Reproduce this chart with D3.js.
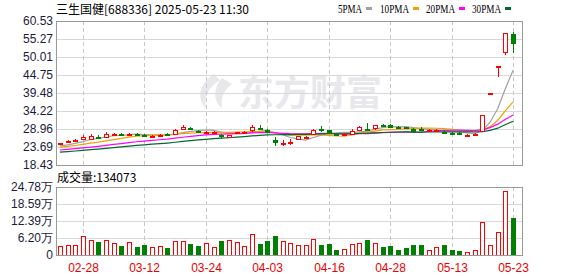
<!DOCTYPE html>
<html>
<head>
<meta charset="utf-8">
<script src="https://cdn.jsdelivr.net/npm/d3@7"></script>
<style>
	body { margin: 0; background: #fff; }
	svg { display: block; }
</style>
</head>
<body>
<div id="chart"></div>
<script>
// trading days shown (60 sessions)
const dates = [
	"02-25","02-26","02-27","02-28","03-03","03-04","03-05","03-06","03-07","03-10",
	"03-11","03-12","03-13","03-14","03-17","03-18","03-19","03-20","03-21","03-24",
	"03-25","03-26","03-27","03-28","03-31","04-01","04-02","04-03","04-07","04-08",
	"04-09","04-10","04-11","04-14","04-15","04-16","04-17","04-18","04-21","04-22",
	"04-23","04-24","04-25","04-28","04-29","04-30","05-06","05-07","05-08","05-09",
	"05-12","05-13","05-14","05-15","05-16","05-19","05-20","05-21","05-22","05-23"
];

const opens = [
	24.4,25.0,25.4,26.0,26.0,26.7,26.8,27.2,27.5,27.3,
	27.6,27.3,26.8,27.0,27.5,27.4,28.9,29.2,28.5,27.9,
	27.9,27.1,26.5,27.6,27.9,28.4,29.3,28.7,25.6,24.8,
	24.9,25.9,26.4,27.5,29.0,28.6,27.6,27.3,27.6,28.7,
	29.1,29.0,30.2,30.2,29.6,29.4,29.0,28.9,28.5,28.4,
	28.2,27.9,27.8,27.1,27.3,28.4,39.53,47.44,51.5,56.6
];
const closes = [
	24.8,25.4,25.8,26.6,26.8,26.4,27.6,27.5,27.2,27.6,
	27.4,27.0,27.0,27.2,27.2,28.7,29.4,28.9,28.2,28.1,
	28.1,26.8,27.1,28.0,28.2,29.4,29.0,28.2,24.9,25.0,
	25.2,26.8,26.6,28.7,28.6,27.8,27.3,27.5,28.5,29.5,
	28.9,30.0,30.0,29.7,29.4,29.2,28.4,28.6,28.7,28.8,
	27.9,27.7,27.5,27.3,27.45,32.94,39.53,47.44,56.93,54.0
];
const highs = [
	25.0,25.6,26.0,27.1,27.5,27.2,28.1,27.9,27.7,27.9,
	27.9,27.5,27.3,27.5,27.8,29.0,30.2,29.6,28.8,28.4,
	28.3,27.4,27.3,28.2,28.5,30.2,30.1,29.0,26.6,25.8,
	25.9,27.0,26.9,29.0,29.8,28.8,27.9,27.8,28.9,29.8,
	30.6,30.2,30.5,30.4,29.8,29.6,29.3,29.6,28.9,29.0,
	28.6,28.1,28.0,27.5,27.8,32.94,39.53,47.44,56.93,57.2
];
const lows = [
	24.3,24.9,25.3,25.9,25.9,26.2,26.6,27.0,27.0,27.2,
	27.2,26.8,26.6,26.8,27.0,27.2,28.6,28.6,27.9,27.8,
	27.7,26.1,26.3,27.4,27.7,28.2,28.7,27.9,24.0,24.1,
	24.3,25.7,26.2,27.3,28.2,27.6,27.1,27.1,27.4,28.5,
	28.7,28.8,29.8,29.5,29.2,29.0,28.2,28.3,28.4,28.3,
	27.4,27.5,27.4,26.7,27.0,28.2,39.53,44.3,50.7,51.1
];
// volume in 万 shares
const volumes = [
	3.3,3.6,3.6,6.9,5.4,4.8,5.4,4.2,3.3,4.7,
	2.9,3.6,2.9,3.3,2.5,5.1,5.1,4.0,3.3,4.3,
	2.9,5.2,5.4,4.7,3.3,7.6,4.0,5.2,6.9,5.1,
	4.2,3.5,3.5,6.0,3.6,4.0,1.8,2.1,4.0,4.3,
	5.4,4.3,2.9,3.3,1.8,2.5,3.6,3.6,1.8,2.9,
	3.6,1.8,1.45,1.1,1.8,12.2,3.6,8.3,23.2,13.41
];
// closes before the window, needed for the moving averages
const prevCloses = [
	20.6,20.9,21.2,20.8,21.1,21.3,20.7,21.0,21.2,21.2,
	21.5,21.8,22.2,21.9,22.0,22.3,21.7,22.1,22.4,22.0,
	23.2,23.0,23.4,23.1,23.5,23.9,23.6,24.0,23.8
];

const priceTicks = [18.43,23.69,28.96,34.22,39.48,44.75,50.01,55.27,60.53];
const volTicks = [0,6.20,12.39,18.59,24.78];
const labelDates = ["02-28","03-12","03-24","04-03","04-16","04-28","05-13","05-23"];
const maPeriods = [5,10,20,30];
const maNames = ["5PMA","10PMA","20PMA","30PMA"];

const title = "三生国健[688336] 2025-05-23 11:30";
const lastVolume = 134073;

const maColors = ["#a0a0a0","#f0a000","#ff00ff","#006a2c"],
	upColor = "#ff0000",
	downColor = "#008000",
	gridColor = "#d8d8d8",
	borderColor = "#999",
	labelColor = "#1c1c3a";

const width = 578, height = 276,
	left = 56, right = 522,
	priceTop = 21, priceBottom = 165,
	volTop = 187, volBottom = 255;

const svg = d3.select("#chart")
	.append("svg")
	.attr("width", width)
	.attr("height", height)
	.style("font-family", "'Liberation Sans', Arial, sans-serif");

const x = d3.scaleBand()
	.domain(dates)
	.range([left, 517])
	.paddingInner(0.35)
	.paddingOuter(0.175);

const cx = d => Math.round(x(d) + x.bandwidth() / 2) + 0.5;

const yPrice = d3.scaleLinear()
	.domain([priceTicks[0], priceTicks[priceTicks.length - 1]])
	.range([priceBottom, priceTop]);

const yVol = d3.scaleLinear()
	.domain([0, volTicks[volTicks.length - 1]])
	.range([volBottom, volTop]);

// watermark
const wm = svg.append("g").attr("fill", "#e8e8ec");
wm.append("path")
	.attr("d", "M214,74 C198,84 197,100 206,108 C203,96 210,86 220,80 Z M222,78 C212,90 214,102 222,108 C220,96 226,88 232,84 Z");
wm.append("text")
	.attr("x", 238)
	.attr("y", 106)
	.attr("font-size", 36)
	.attr("font-weight", "bold")
	.attr("font-family", "'Noto Sans CJK SC', sans-serif")
	.text("东方财富");

// horizontal grid
svg.append("g")
	.selectAll("line")
	.data(priceTicks.slice(1, -1))
	.enter()
	.append("line")
	.attr("x1", left).attr("x2", right)
	.attr("y1", d => Math.round(yPrice(d)) + 0.5)
	.attr("y2", d => Math.round(yPrice(d)) + 0.5)
	.style("stroke", gridColor);

svg.append("g")
	.selectAll("line")
	.data(volTicks.slice(1, -1))
	.enter()
	.append("line")
	.attr("x1", left).attr("x2", right)
	.attr("y1", d => Math.round(yVol(d)) + 0.5)
	.attr("y2", d => Math.round(yVol(d)) + 0.5)
	.style("stroke", gridColor);

// vertical dashed lines at date labels
[[priceTop, priceBottom], [volTop, volBottom]].forEach(([t, b]) => {
	svg.append("g")
		.selectAll("line")
		.data(labelDates)
		.enter()
		.append("line")
		.attr("x1", cx).attr("x2", cx)
		.attr("y1", t).attr("y2", b)
		.style("stroke", "#c8c8c8")
		.style("stroke-dasharray", "4,3");
});

// moving averages
const allCloses = prevCloses.concat(closes);
const offset = prevCloses.length;

maPeriods.forEach((p, k) => {
	const ma = closes.map((c, i) => d3.mean(allCloses.slice(i + offset - p + 1, i + offset + 1)));
	const line = d3.line()
		.x((d, i) => x(dates[i]) + x.bandwidth() / 2)
		.y(d => yPrice(d));
	svg.append("path")
		.datum(ma)
		.attr("d", line)
		.style("fill", "none")
		.style("stroke", maColors[k])
		.style("stroke-width", 1.2);
});

// candles
const candles = dates.map((d, i) => ({
	date: d, o: opens[i], c: closes[i], h: highs[i], l: lows[i], v: volumes[i],
	up: closes[i] >= opens[i]
}));

const cg = svg.append("g").attr("shape-rendering", "crispEdges");

cg.selectAll("line.wick")
	.data(candles)
	.enter()
	.append("line")
	.attr("class", "wick")
	.attr("x1", d => cx(d.date)).attr("x2", d => cx(d.date))
	.attr("y1", d => yPrice(d.h)).attr("y2", d => yPrice(d.l))
	.style("stroke", d => d.up ? upColor : downColor);

cg.selectAll("rect.body")
	.data(candles)
	.enter()
	.append("rect")
	.attr("class", "body")
	.attr("x", d => cx(d.date) - 2)
	.attr("width", 4)
	.attr("y", d => Math.round(yPrice(Math.max(d.o, d.c))) + 0.5)
	.attr("height", d => Math.max(1, Math.round(Math.abs(yPrice(d.o) - yPrice(d.c)))))
	.style("fill", d => d.up ? "#fff" : downColor)
	.style("stroke", d => d.up ? upColor : downColor);

// volume bars
svg.append("g")
	.attr("shape-rendering", "crispEdges")
	.selectAll("rect")
	.data(candles)
	.enter()
	.append("rect")
	.attr("x", d => cx(d.date) - 2)
	.attr("width", 4)
	.attr("y", d => Math.round(yVol(d.v)) + 0.5)
	.attr("height", d => volBottom - Math.round(yVol(d.v)) - 0.5)
	.style("fill", d => d.up ? "#fff" : downColor)
	.style("stroke", d => d.up ? upColor : downColor);

// borders
[[priceTop, priceBottom], [volTop, volBottom]].forEach(([t, b]) => {
	svg.append("rect")
		.attr("x", left + 0.5)
		.attr("y", t + 0.5)
		.attr("width", right - left)
		.attr("height", b - t)
		.style("fill", "none")
		.style("stroke", borderColor);
});

// y labels
svg.append("g")
	.selectAll("text")
	.data(priceTicks)
	.enter()
	.append("text")
	.attr("x", 53)
	.attr("y", d => yPrice(d))
	.attr("dy", "0.36em")
	.attr("text-anchor", "end")
	.attr("font-size", 12)
	.attr("fill", labelColor)
	.text(d => d3.format(".2f")(d));

svg.append("g")
	.selectAll("text")
	.data(volTicks)
	.enter()
	.append("text")
	.attr("x", 53)
	.attr("y", d => yVol(d))
	.attr("dy", "0.36em")
	.attr("text-anchor", "end")
	.attr("font-size", 12)
	.attr("fill", labelColor)
	.text(d => d === 0 ? "0" : d3.format(".2f")(d) + "万");

// x labels
svg.append("g")
	.selectAll("text")
	.data(labelDates)
	.enter()
	.append("text")
	.attr("x", cx)
	.attr("y", 272)
	.attr("text-anchor", "middle")
	.attr("font-size", 12)
	.attr("fill", "#ee0000")
	.text(d => d);

// title, volume label
svg.append("text")
	.attr("x", 56)
	.attr("y", 14)
	.attr("font-size", 12)
	.attr("font-family", "'Noto Sans CJK SC', sans-serif")
	.attr("fill", "#000")
	.text(title);

svg.append("text")
	.attr("x", 57)
	.attr("y", 182)
	.attr("font-size", 12)
	.attr("font-family", "'Noto Sans CJK SC', sans-serif")
	.attr("fill", "#000")
	.text("成交量:" + lastVolume);

// legend
const legendX = [338, 380, 426, 472];
const legendW = [24, 29, 29, 29];
const legend = svg.append("g");
maNames.forEach((n, k) => {
	legend.append("text")
		.attr("x", legendX[k])
		.attr("y", 13)
		.attr("font-size", 12)
		.attr("font-family", "'Liberation Serif', serif")
		.attr("textLength", legendW[k])
		.attr("lengthAdjust", "spacingAndGlyphs")
		.attr("fill", "#000")
		.text(n);
	legend.append("rect")
		.attr("x", legendX[k] + legendW[k] + 4)
		.attr("y", 7)
		.attr("width", 6)
		.attr("height", 3)
		.style("fill", maColors[k]);
});
</script>
</body>
</html>
